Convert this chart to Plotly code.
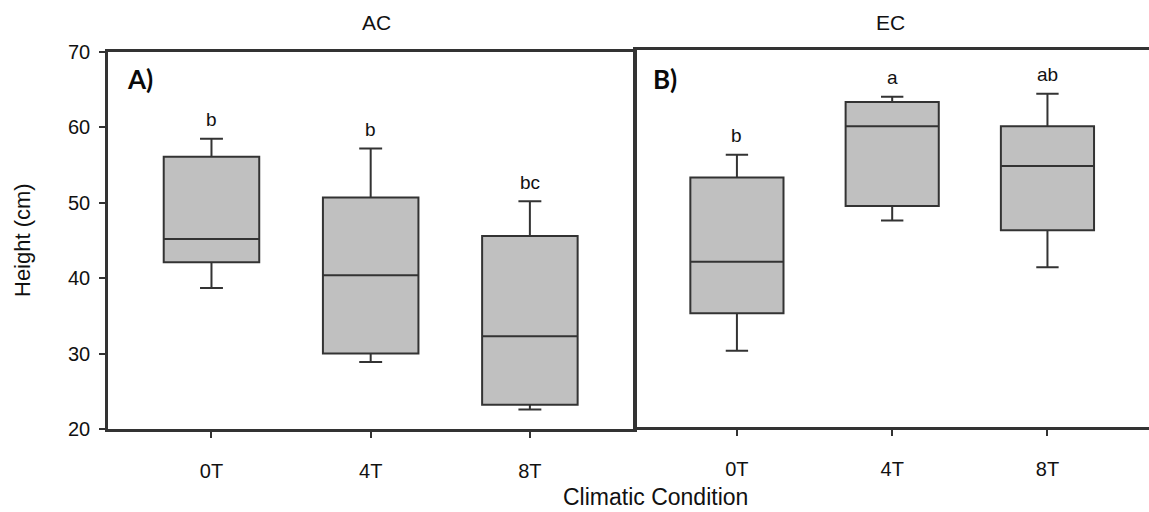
import plotly.graph_objects as go

# Plant height (cm) summary statistics per temperature treatment
categories = ["0T", "4T", "8T"]

# Ambient CO2 (AC)
ac_lower = [38.7, 28.9, 22.6]
ac_q1 = [42.1, 30.0, 23.2]
ac_median = [45.2, 40.4, 32.3]
ac_q3 = [56.1, 50.7, 45.6]
ac_upper = [58.5, 57.2, 50.2]
ac_letters = ["b", "b", "bc"]

# Elevated CO2 (EC)
ec_lower = [30.1, 47.4, 41.2]
ec_q1 = [35.1, 49.3, 46.1]
ec_median = [41.9, 59.9, 54.6]
ec_q3 = [53.1, 63.1, 59.9]
ec_upper = [56.1, 63.8, 64.2]
ec_letters = ["b", "a", "ab"]

y_ticks = [20, 30, 40, 50, 60, 70]

W, H = 1149, 512
FONT = "Liberation Sans, Arial, sans-serif"
TEXT = "#111111"
LINE = "#333333"
FILL = "#c0c0c0"


def px_x(v):
    return v / W


def px_y(v):
    return 1 - v / H


fig = go.Figure()

box_style = dict(
    fillcolor=FILL,
    line=dict(color=LINE, width=2),
    width=0.6,
    whiskerwidth=0.24,
    showlegend=False,
    hoverinfo="skip",
)

fig.add_trace(go.Box(
    x=categories, q1=ac_q1, median=ac_median, q3=ac_q3,
    lowerfence=ac_lower, upperfence=ac_upper,
    xaxis="x", yaxis="y", **box_style,
))
fig.add_trace(go.Box(
    x=categories, q1=ec_q1, median=ec_median, q3=ec_q3,
    lowerfence=ec_lower, upperfence=ec_upper,
    xaxis="x2", yaxis="y2", **box_style,
))

xaxis_common = dict(
    type="category",
    range=[-0.65, 2.654],
    automargin=False,
    showline=True, linecolor=LINE, linewidth=2.5, mirror=True,
    ticks="outside", ticklen=6, tickwidth=1.8, tickcolor=LINE,
    tickfont=dict(family=FONT, size=20, color=TEXT),
    ticklabelstandoff=16,
    showgrid=False, zeroline=False,
)

fig.update_layout(
    template="none",
    width=W, height=H, autosize=False,
    margin=dict(l=0, r=0, t=0, b=0, pad=0),
    paper_bgcolor="white", plot_bgcolor="white",
    xaxis=dict(domain=[px_x(108), px_x(634)], anchor="y", **xaxis_common),
    xaxis2=dict(domain=[px_x(636), 1.0], anchor="y2", **xaxis_common),
    yaxis=dict(
        domain=[px_y(429), px_y(52)], anchor="x",
        range=[20, 70], tickvals=y_ticks,
        automargin=False,
        showline=True, linecolor=LINE, linewidth=2.5, mirror=True,
        ticks="outside", ticklen=6, tickwidth=1.8, tickcolor=LINE,
        tickfont=dict(family=FONT, size=20, color=TEXT),
        ticklabelstandoff=5,
        showgrid=False, zeroline=False,
    ),
    yaxis2=dict(
        domain=[px_y(427), px_y(50)], anchor="x2",
        range=[20, 70],
        automargin=False,
        showline=True, linecolor=LINE, linewidth=2.5, mirror=False,
        showticklabels=False, ticks="",
        showgrid=False, zeroline=False,
    ),
)

annotations = []

# Significance letters above each upper whisker
for xa, ya, uppers, letters in (("x", "y", ac_upper, ac_letters),
                                ("x2", "y2", ec_upper, ec_letters)):
    for cat, up, lab in zip(categories, uppers, letters):
        annotations.append(dict(
            x=cat, y=up, xref=xa, yref=ya, text=lab, showarrow=False,
            yanchor="middle", yshift=19,
            font=dict(family=FONT, size=19, color=TEXT),
        ))

# Panel titles and tags
annotations += [
    dict(x=px_x(376), y=px_y(22), xref="paper", yref="paper", text="AC",
         showarrow=False, xanchor="center", yanchor="middle",
         font=dict(family=FONT, size=21, color=TEXT)),
    dict(x=px_x(890), y=px_y(22), xref="paper", yref="paper", text="EC",
         showarrow=False, xanchor="center", yanchor="middle",
         font=dict(family=FONT, size=21, color=TEXT)),
    dict(x=px_x(125), y=px_y(79), xref="paper", yref="paper", text="<b>A)</b>",
         showarrow=False, xanchor="left", yanchor="middle",
         font=dict(family="Lato, sans-serif", size=26, color="#0a0a0a")),
    dict(x=px_x(651), y=px_y(79), xref="paper", yref="paper", text="<b>B)</b>",
         showarrow=False, xanchor="left", yanchor="middle",
         font=dict(family="Lato, sans-serif", size=26, color="#0a0a0a")),
    # Axis titles
    dict(x=px_x(22), y=px_y(240), xref="paper", yref="paper", text="Height (cm)",
         showarrow=False, textangle=-90, xanchor="center", yanchor="middle",
         font=dict(family=FONT, size=22, color=TEXT)),
    dict(x=px_x(655), y=px_y(497), xref="paper", yref="paper",
         text="Climatic Condition", showarrow=False,
         xanchor="center", yanchor="middle",
         font=dict(family=FONT, size=23, color=TEXT)),
]

fig.update_layout(annotations=annotations)

fig.write_html("out.html")
